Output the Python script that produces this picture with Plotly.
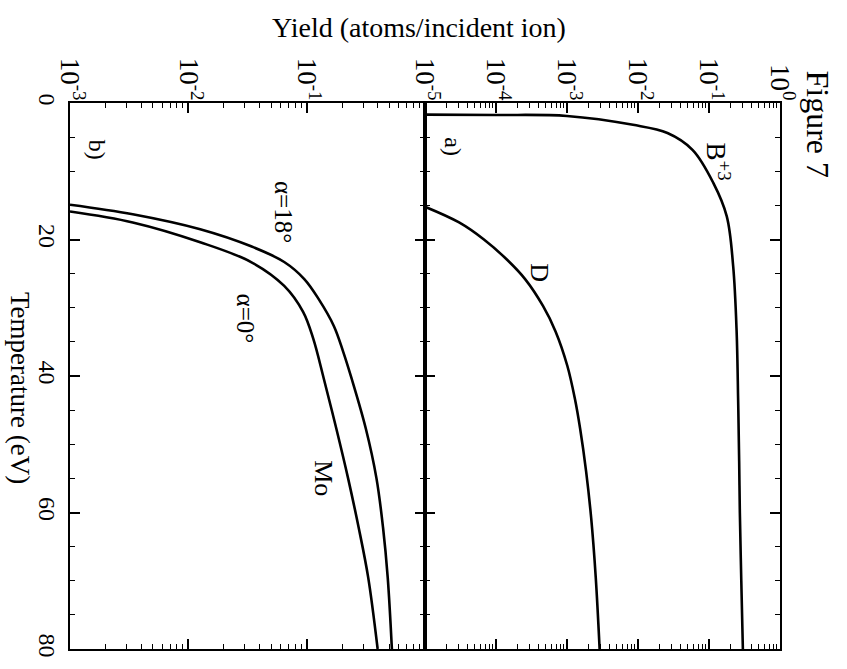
import plotly.graph_objects as go

# Temperature (eV) and sputtering yield (atoms/incident ion)
b3_temp = [1.7, 1.75, 1.9, 3.2, 4.4, 6.9, 11.7, 16.6, 23.9, 33.5, 43.3, 52.5, 60.0, 70.0, 80.0]
b3_yield = [1.0e-5, 1.0e-4, 1.0e-3, 8.5e-3, 2.6e-2, 5.9e-2, 0.115, 0.178, 0.219, 0.245,
            0.257, 0.266, 0.272, 0.285, 0.300]

d_temp = [15.2, 17.5, 20.0, 22.9, 25.8, 29.7, 33.5, 38.5, 43.3, 47.7, 54.0, 60.8, 69.5, 80.0]
d_yield = [1.0e-5, 3.02e-5, 6.76e-5, 1.41e-4, 2.57e-4, 4.57e-4, 6.92e-4, 1.01e-3, 1.29e-3,
           1.53e-3, 1.86e-3, 2.19e-3, 2.54e-3, 2.88e-3]

mo18_temp = [14.9, 16.3, 18.5, 21.0, 23.3, 25.8, 28.7, 32.7, 36.5, 40.4, 47.7, 55.0, 62.2, 69.5, 80.0]
mo18_yield = [1.0e-3, 3.39e-3, 0.0126, 0.0339, 0.0646, 0.0955, 0.126, 0.170, 0.204, 0.240,
              0.316, 0.389, 0.442, 0.484, 0.525]

mo0_temp = [15.9, 17.5, 20.4, 23.3, 26.8, 30.6, 34.5, 40.4, 47.7, 55.0, 62.2, 69.5, 80.0]
mo0_yield = [1.0e-3, 3.39e-3, 0.0126, 0.0339, 0.0646, 0.0933, 0.1135, 0.1396, 0.178, 0.224,
             0.275, 0.331, 0.398]

b_exponents = [-3, -2, -1]
a_exponents = [-5, -4, -3, -2, -1, 0]

FONT = "Liberation Serif"
INK = "black"


def curve(x, y, xa, ya):
    return go.Scatter(x=x, y=y, mode="lines", xaxis=xa, yaxis=ya, showlegend=False,
                      line=dict(color=INK, width=2.6, shape="spline", smoothing=1.0),
                      hoverinfo="skip")


fig = go.Figure()
# panel b: Mo at two incidence angles
fig.add_trace(curve(mo18_yield, mo18_temp, "x", "y"))
fig.add_trace(curve(mo0_yield, mo0_temp, "x", "y"))
# panel a: D and B+3
fig.add_trace(curve(d_yield, d_temp, "x2", "y2"))
fig.add_trace(curve(b3_yield, b3_temp, "x2", "y2"))

# empty traces so the overlaid minor-tick axes get drawn
for xa, ya in (("x3", "y"), ("x4", "y2")):
    fig.add_trace(go.Scatter(x=[0.5], y=[40], xaxis=xa, yaxis=ya, mode="markers",
                             marker=dict(opacity=0), showlegend=False, hoverinfo="skip"))


def minor_vals(lo, hi):
    return [k * 10.0 ** e for e in range(lo, hi) for k in range(2, 10)]


def power_label(e):
    return "10<sup>%d</sup>" % e


frame = dict(ticks="inside", tickcolor=INK, showline=True, linecolor=INK, linewidth=2.2,
             mirror="ticks", showgrid=False, zeroline=False)
log_x = dict(frame, type="log", side="top", tickangle=90, ticklen=10, tickwidth=1.6,
             tickfont=dict(family=FONT, size=27, color=INK), ticklabelstandoff=-9)
log_x_minor = dict(frame, type="log", side="top", ticklen=5, tickwidth=1.3, showticklabels=False)
temp_y = dict(frame, range=[80, 0], tickmode="linear", tick0=0, dtick=20, ticklen=10, tickwidth=1.6,
              minor=dict(dtick=5, ticks="inside", ticklen=5, tickwidth=1.3, tickcolor=INK,
                         showgrid=False))

fig.update_layout(
    width=847, height=669,
    margin=dict(l=70, r=67, t=103, b=17),
    paper_bgcolor="white", plot_bgcolor="white",
    font=dict(family=FONT, color=INK),
    # yield axes (decades), one per panel
    xaxis=dict(log_x, domain=[0, 0.5], range=[-3, 0], anchor="y",
               tickvals=[10.0 ** e for e in b_exponents],
               ticktext=[power_label(e) for e in b_exponents]),
    xaxis2=dict(log_x, domain=[0.5, 1], range=[-5, 0], anchor="y2",
                tickvals=[10.0 ** e for e in a_exponents],
                ticktext=[power_label(e) for e in a_exponents]),
    # minor log ticks drawn on overlaid axes
    xaxis3=dict(log_x_minor, domain=[0, 0.5], range=[-3, 0], anchor="y", overlaying="x",
                tickvals=minor_vals(-3, 0)),
    xaxis4=dict(log_x_minor, domain=[0.5, 1], range=[-5, 0], anchor="y2", overlaying="x2",
                tickvals=minor_vals(-5, 0)),
    # temperature axes
    yaxis=dict(temp_y, anchor="x", tickangle=90,
               tickfont=dict(family=FONT, size=24, color=INK)),
    yaxis2=dict(temp_y, anchor="x2", matches="y", showticklabels=False),
)

labels = [
    ("x2", "y2", -4.6, 6.4, "a)", 24),
    ("x2", "y2", -0.87, 8.6, "B<sup>+3</sup>", 27),
    ("x2", "y2", -3.38, 24.8, "D", 26),
    ("x", "y", -2.77, 6.9, "b)", 24),
    ("x", "y", -1.19, 16.0, "α=18°", 25),
    ("x", "y", -1.52, 31.6, "α=0°", 25),
    ("x", "y", -0.86, 55.0, "Mo", 26),
]
for xr, yr, lx, ty, text, size in labels:
    fig.add_annotation(xref=xr, yref=yr, x=lx, y=ty, text=text, showarrow=False,
                       textangle=90, font=dict(family=FONT, size=size, color=INK),
                       xanchor="center", yanchor="middle")

fig.add_annotation(xref="paper", yref="paper", x=0.4915, y=1.138, text="Yield (atoms/incident ion)",
                   showarrow=False, font=dict(family=FONT, size=28, color=INK),
                   xanchor="center", yanchor="middle")
fig.add_annotation(xref="paper", yref="paper", x=-0.0704, y=0.478, text="Temperature (eV)",
                   showarrow=False, textangle=90, font=dict(family=FONT, size=27, color=INK),
                   xanchor="center", yanchor="middle")
fig.add_annotation(xref="paper", yref="paper", x=1.054, y=0.960, text="Figure 7",
                   showarrow=False, textangle=90, font=dict(family=FONT, size=32, color=INK),
                   xanchor="center", yanchor="middle")

fig.write_html("out.html")
